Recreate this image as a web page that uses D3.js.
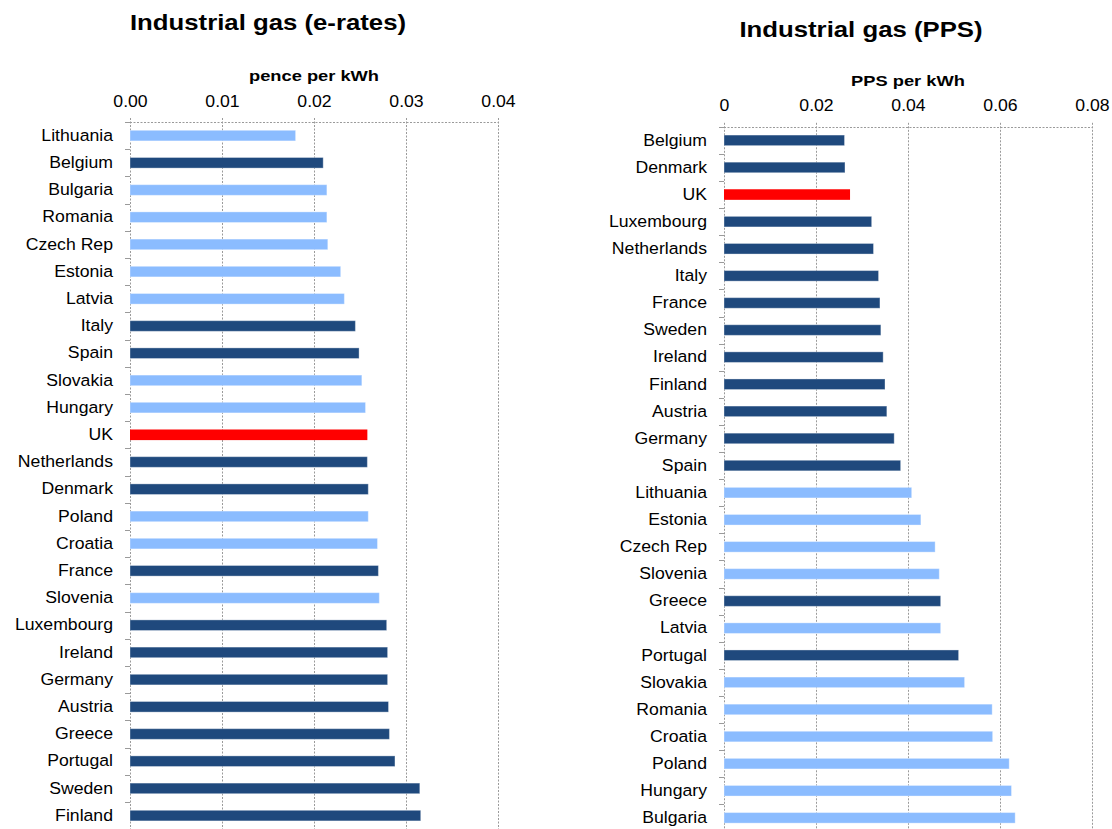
<!DOCTYPE html>
<html><head><meta charset="utf-8">
<script src="https://cdn.jsdelivr.net/npm/d3@7"></script>
<style>
body{margin:0;background:#fff}
svg{display:block;background:#fff}
text{font-family:"Liberation Sans",Arial,Helvetica,sans-serif;fill:#000}
</style>
</head><body>
<svg id="chart" width="1112" height="829"></svg>
<script>
// ---------- data ----------
const eu15 = ["Belgium","Denmark","Luxembourg","Netherlands","Italy","France","Sweden","Ireland","Finland","Austria","Germany","Spain","Greece","Portugal"];
const highlight = ["UK"];

const leftTitle = "Industrial gas (e-rates)";
const leftAxisTitle = "pence per kWh";
const leftCountries = ["Lithuania","Belgium","Bulgaria","Romania","Czech Rep","Estonia","Latvia","Italy","Spain","Slovakia","Hungary","UK","Netherlands","Denmark","Poland","Croatia","France","Slovenia","Luxembourg","Ireland","Germany","Austria","Greece","Portugal","Sweden","Finland"];
const leftValues = [0.0180,0.0210,0.0214,0.0214,0.0215,0.0229,0.0233,0.0245,0.0249,0.0252,0.0256,0.0258,0.0258,0.0259,0.0259,0.0269,0.0270,0.0271,0.0279,0.0280,0.0280,0.0281,0.0282,0.0288,0.0315,0.0316];
const leftTicks = [0,0.01,0.02,0.03,0.04];
const leftTickLabels = ["0.00","0.01","0.02","0.03","0.04"];

const rightTitle = "Industrial gas (PPS)";
const rightAxisTitle = "PPS per kWh";
const rightCountries = ["Belgium","Denmark","UK","Luxembourg","Netherlands","Italy","France","Sweden","Ireland","Finland","Austria","Germany","Spain","Lithuania","Estonia","Czech Rep","Slovenia","Greece","Latvia","Portugal","Slovakia","Romania","Croatia","Poland","Hungary","Bulgaria"];
const rightValues = [0.0262,0.0263,0.0274,0.0321,0.0325,0.0336,0.0339,0.0341,0.0346,0.0350,0.0354,0.0370,0.0384,0.0408,0.0428,0.0459,0.0468,0.0471,0.0471,0.0510,0.0523,0.0583,0.0584,0.0620,0.0625,0.0633];
const rightTicks = [0,0.02,0.04,0.06,0.08];
const rightTickLabels = ["0","0.02","0.04","0.06","0.08"];

// ---------- styles ----------
const DARK = "#1F497D", LIGHT = "#8BBCFF", RED = "#FF0000";
const GRID = "#9a9a9a";
const SX_LABEL = 1.07, SX_TITLE = 1.12, SX_AXT = 1.22;

const svg = d3.select("#chart");

function colorFor(c){
  if (highlight.includes(c)) return RED;
  return eu15.includes(c) ? DARK : LIGHT;
}

function drawPanel(p){
  const g = svg.append("g");
  const x = d3.scaleLinear().domain([p.ticks[0], p.ticks[p.ticks.length-1]]).range([p.x0, p.x1]);
  const y = d3.scaleBand().domain(p.countries).range([p.yTop, p.yBottom]).paddingInner(0.61).paddingOuter(0.305);
  const step = y.step();

  // title
  g.append("text")
    .attr("transform", `translate(${p.titleX},${p.titleY}) scale(${SX_TITLE},1)`)
    .attr("text-anchor","middle").attr("font-weight","bold").attr("font-size", 23)
    .text(p.title);
  // axis title
  g.append("text")
    .attr("transform", `translate(${(p.x0+p.x1)/2},${p.axisTitleY}) scale(${SX_AXT},1)`)
    .attr("text-anchor","middle").attr("font-weight","bold").attr("font-size", 15)
    .text(p.axisTitle);

  // vertical gridlines
  g.append("g").selectAll("line").data(p.ticks).join("line")
    .attr("x1", d => Math.round(x(d))+0.5).attr("x2", d => Math.round(x(d))+0.5)
    .attr("y1", p.yTop-4).attr("y2", 829)
    .attr("stroke", GRID).attr("stroke-width",1).attr("stroke-dasharray","2,1.5");
  // top horizontal line
  g.append("line")
    .attr("x1", p.x0).attr("x2", p.x1)
    .attr("y1", Math.round(p.yTop)+0.5).attr("y2", Math.round(p.yTop)+0.5)
    .attr("stroke", GRID).attr("stroke-width",1).attr("stroke-dasharray","2,1.5");

  // top axis tick labels
  const xAxis = d3.axisTop(x).tickValues(p.ticks)
    .tickFormat((d,i) => p.tickLabels[i]).tickSize(0).tickPadding(p.yTop - p.tickBaseline);
  const xa = g.append("g").attr("transform", `translate(0,${p.yTop})`).call(xAxis);
  xa.select(".domain").remove();
  xa.selectAll("text").attr("font-size", 16.5).attr("font-family", null).attr("fill","#000")
    .attr("transform", `scale(${SX_LABEL},1)`);

  // band boundary ticks on y axis
  const bounds = d3.range(0, p.countries.length+1).map(i => p.yTop + i*step);
  g.append("g").selectAll("line").data(bounds).join("line")
    .attr("x1", p.x0-5).attr("x2", p.x0)
    .attr("y1", d => Math.round(d)+0.5).attr("y2", d => Math.round(d)+0.5)
    .attr("stroke", GRID).attr("stroke-width",1);

  // y axis category labels
  const yAxis = d3.axisLeft(y).tickSize(0).tickPadding(p.x0 - p.labelRight);
  const ya = g.append("g").attr("transform", `translate(${p.x0},0)`).call(yAxis);
  ya.select(".domain").remove();
  ya.selectAll("text").attr("font-size", 16.5).attr("font-family", null).attr("fill","#000")
    .attr("x", -(p.x0 - p.labelRight)/SX_LABEL)
    .attr("transform", `scale(${SX_LABEL},1)`);

  // bars
  const data = p.countries.map((c,i) => ({c, v: p.values[i]}));
  g.append("g").selectAll("rect").data(data).join("rect")
    .attr("x", x(0)).attr("y", d => y(d.c))
    .attr("width", d => x(d.v) - x(0)).attr("height", y.bandwidth())
    .attr("fill", d => colorFor(d.c))
    .attr("stroke", d => colorFor(d.c) === RED ? "none" : "rgba(255,255,255,0.35)")
    .attr("stroke-width", 1);
}

drawPanel({
  title: leftTitle, axisTitle: leftAxisTitle,
  countries: leftCountries, values: leftValues, ticks: leftTicks, tickLabels: leftTickLabels,
  x0: 130, x1: 498, yTop: 122, yBottom: 122 + 26*27.2,
  titleX: 268, titleY: 30, axisTitleY: 81, tickBaseline: 107, labelRight: 113
});
drawPanel({
  title: rightTitle, axisTitle: rightAxisTitle,
  countries: rightCountries, values: rightValues, ticks: rightTicks, tickLabels: rightTickLabels,
  x0: 724, x1: 1092, yTop: 126.8, yBottom: 126.8 + 26*27.1,
  titleX: 861, titleY: 37, axisTitleY: 86, tickBaseline: 111, labelRight: 707
});
</script>
</body></html>
